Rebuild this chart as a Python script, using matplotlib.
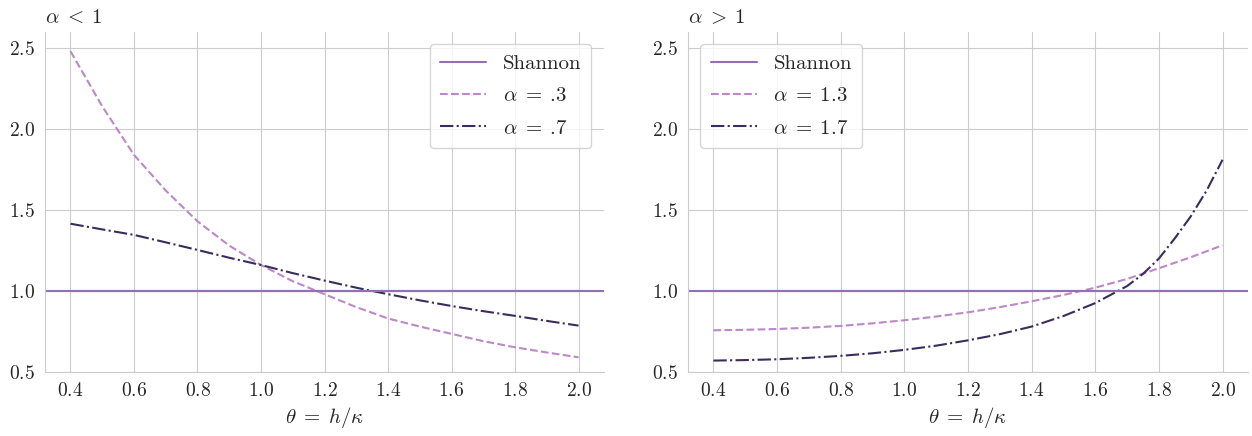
import matplotlib
matplotlib.use("Agg")
import matplotlib.pyplot as plt
import seaborn as sns

# valores
theta = [0.4, 0.5, 0.6, 0.7, 0.8, 0.9, 1.0, 1.1, 1.2, 1.3, 1.4, 1.5, 1.6, 1.7, 1.8, 1.9, 2.0]
shannon = [1.0] * len(theta)

a03 = [2.48, 2.14, 1.84, 1.62, 1.43, 1.28, 1.16, 1.06, 0.98, 0.90, 0.83, 0.78, 0.735, 0.69, 0.652, 0.62, 0.59]
a07 = [1.415, 1.38, 1.346, 1.30, 1.253, 1.205, 1.16, 1.11, 1.064, 1.02, 0.98, 0.942, 0.907, 0.875, 0.846, 0.815, 0.786]

a13 = [0.757, 0.76, 0.765, 0.773, 0.784, 0.80, 0.819, 0.842, 0.868, 0.90, 0.936, 0.975, 1.02, 1.074, 1.14, 1.208, 1.282]
theta17 = [0.4, 0.5, 0.6, 0.7, 0.8, 0.9, 1.0, 1.1, 1.2, 1.3, 1.4, 1.5, 1.6, 1.7, 1.75, 1.8, 1.85, 1.9, 1.95, 2.0]
a17 = [0.57, 0.573, 0.578, 0.587, 0.599, 0.615, 0.636, 0.662, 0.695, 0.733, 0.78, 0.845, 0.925, 1.03, 1.105, 1.20, 1.325, 1.46, 1.62, 1.81]

c_shannon = '#9370b0'
c_light = '#bb88c8'
c_dark = '#3a2c5c'

sns.set_style("whitegrid")
plt.rcParams['font.family'] = 'serif'
plt.rcParams['font.serif'] = ['cmr10', 'DejaVu Serif']
plt.rcParams['mathtext.fontset'] = 'cm'
plt.rcParams['axes.formatter.use_mathtext'] = True
plt.rcParams['font.size'] = 14

fig = plt.figure(figsize=(12.52, 4.36), dpi=100)
ax1 = fig.add_axes([0.036, 0.147, 0.4464, 0.78])
ax2 = fig.add_axes([0.5495, 0.147, 0.4473, 0.78])

leg_kw = dict(fontsize=15, labelspacing=0.65, handlelength=2.2, handletextpad=0.8,
              borderpad=0.5, borderaxespad=0.6)

ax1.plot(theta, shannon, color=c_shannon, lw=1.5, label='Shannon')
ax1.plot(theta, a03, color=c_light, ls='--', lw=1.5, label=r'$\alpha\;=\;$.3')
ax1.plot(theta, a07, color=c_dark, ls='-.', lw=1.5, label=r'$\alpha\;=\;$.7')
ax1.axhline(1.0, color=c_shannon, lw=1.5)
ax1.set_title(r'$\alpha\;<\;1$', loc='left', fontsize=15)
ax1.legend(loc='upper right', **leg_kw)

ax2.plot(theta, shannon, color=c_shannon, lw=1.5, label='Shannon')
ax2.plot(theta, a13, color=c_light, ls='--', lw=1.5, label=r'$\alpha\;=\;1.3$')
ax2.plot(theta17, a17, color=c_dark, ls='-.', lw=1.5, label=r'$\alpha\;=\;1.7$')
ax2.axhline(1.0, color=c_shannon, lw=1.5)
ax2.set_title(r'$\alpha\;>\;1$', loc='left', fontsize=15)
ax2.legend(loc='upper left', **leg_kw)

for ax in [ax1, ax2]:
    ax.set_xlim(0.32, 2.08)
    ax.set_ylim(0.5, 2.6)
    ax.set_yticks([0.5, 1.0, 1.5, 2.0, 2.5])
    ax.set_xticks([0.4, 0.6, 0.8, 1.0, 1.2, 1.4, 1.6, 1.8, 2.0])
    ax.set_xlabel(r'$\theta\;=\;h/\kappa$', fontsize=15)
    ax.tick_params(labelsize=14)
    sns.despine(ax=ax)

fig.savefig('out.png', dpi=100)
